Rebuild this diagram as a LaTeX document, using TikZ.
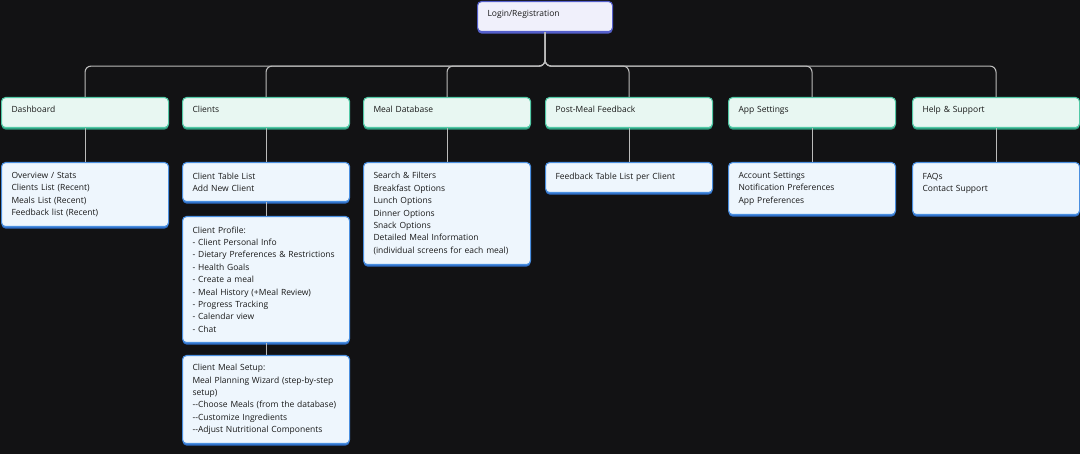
\documentclass[tikz,border=0pt]{standalone}
\usepackage{fontspec}
\setmainfont{Open Sans}
\usetikzlibrary{positioning,calc,shadows}

\definecolor{bgdark}{HTML}{121214}
\definecolor{topfill}{HTML}{E8F7F2}
\definecolor{topline}{HTML}{52C9A6}
\definecolor{topshade}{HTML}{2E9E80}
\definecolor{leaffill}{HTML}{EEF6FD}
\definecolor{leafline}{HTML}{4A8FE0}
\definecolor{leafshade}{HTML}{2F6FC8}
\definecolor{loginfill}{HTML}{F0F0FB}
\definecolor{loginline}{HTML}{5560CC}
\definecolor{linkgray}{HTML}{BBBBBB}

\tikzset{
  basebox/.style={anchor=north west, rounded corners=4pt, line width=1.1pt,
    inner xsep=10pt, inner ysep=0pt, align=left, text=black!90,
    font=\fontsize{8.5}{12.4}\selectfont},
  topbox/.style={basebox, draw=topline, fill=topfill, minimum width=167pt,
    text height=12pt, text depth=12pt, inner ysep=3pt, text width=147pt,
    drop shadow={shadow xshift=0pt, shadow yshift=-2pt, fill=topshade, opacity=1}},
  leafbox/.style={basebox, draw=leafline, fill=leaffill, minimum width=167pt,
    text width=147pt,
    drop shadow={shadow xshift=0pt, shadow yshift=-2pt, fill=leafshade, opacity=1}},
  loginbox/.style={basebox, draw=loginline, fill=loginfill, minimum width=135pt,
    text height=12pt, text depth=12pt, inner ysep=3pt, text width=115pt,
    drop shadow={shadow xshift=0pt, shadow yshift=-2pt, fill=loginline, opacity=1}},
  link/.style={draw=linkgray, line width=1.1pt},
}

\begin{document}
\begin{tikzpicture}[x=1pt, y=-1pt]
  % Background
  \fill[bgdark] (0,0) rectangle (1080,454);
  \useasboundingbox (0,0) rectangle (1080,454);

  % Root
  \node[loginbox] (login) at (477,1) {Login/Registration};

  % Main sections
  \node[topbox] (dash)  at (1,97)   {Dashboard};
  \node[topbox] (cli)   at (182,97) {Clients};
  \node[topbox] (mdb)   at (363,97) {Meal Database};
  \node[topbox] (pmf)   at (545,97) {Post-Meal Feedback};
  \node[topbox] (apps)  at (728,97) {App Settings};
  \node[topbox] (help)  at (912,97) {Help \& Support};

  % Leaf screens
  \node[leafbox, minimum height=64pt] (dashL) at (1,162)
    {Overview / Stats\\Clients List (Recent)\\Meals List (Recent)\\Feedback list (Recent)};
  \node[leafbox, minimum height=39pt] (cliL) at (182,162)
    {Client Table List\\Add New Client};
  \node[leafbox, minimum height=126pt] (cliP) at (182,216)
    {Client Profile:\\- Client Personal Info\\- Dietary Preferences \& Restrictions\\- Health Goals\\- Create a meal\\- Meal History (+Meal Review)\\- Progress Tracking\\- Calendar view\\- Chat};
  \node[leafbox, minimum height=88pt] (cliS) at (182,355)
    {Client Meal Setup:\\Meal Planning Wizard (step-by-step\\setup)\\-{}-Choose Meals (from the database)\\-{}-Customize Ingredients\\-{}-Adjust Nutritional Components};
  \node[leafbox, minimum height=102pt] (mdbL) at (363,162)
    {Search \& Filters\\Breakfast Options\\Lunch Options\\Dinner Options\\Snack Options\\Detailed Meal Information\\(individual screens for each meal)};
  \node[leafbox, minimum height=30pt] (pmfL) at (545,162)
    {Feedback Table List per Client};
  \node[leafbox, minimum height=52pt] (appsL) at (728,162)
    {Account Settings\\Notification Preferences\\App Preferences};
  \node[leafbox, minimum height=52pt] (helpL) at (912,162)
    {FAQs\\Contact Support\\\mbox{}};

  % Bus from root to sections
  \coordinate (bus) at ($(login.south)+(0,34)$);
  \foreach \sec in {dash,cli,mdb,pmf,apps,help}
    \draw[link, rounded corners=6pt] (login.south) -- (bus) -| (\sec.north);

  % Section to leaf links
  \foreach \a/\b in {dash/dashL,cli/cliL,cliL/cliP,cliP/cliS,mdb/mdbL,pmf/pmfL,apps/appsL,help/helpL}
    \draw[link] (\a.south) -- (\b.north);
\end{tikzpicture}
\end{document}
